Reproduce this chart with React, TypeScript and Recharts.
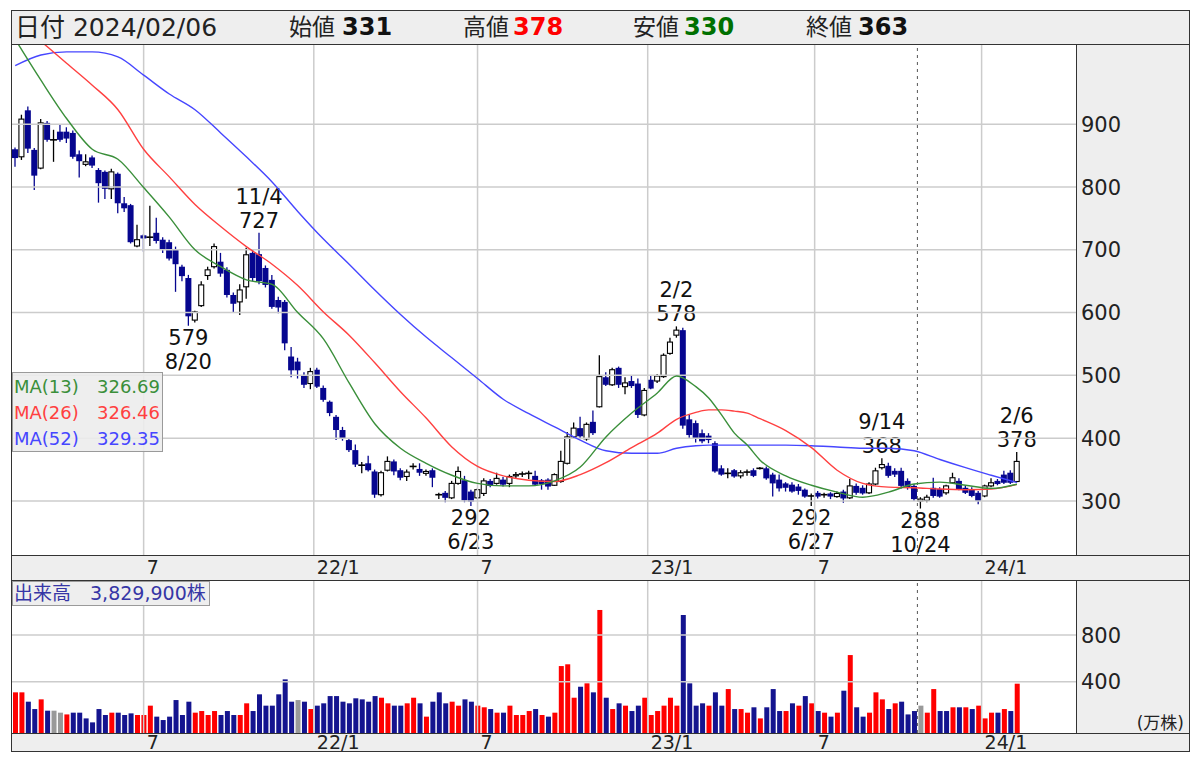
import { Bar, ComposedChart, Line, ReferenceLine, XAxis, YAxis } from "recharts"

const FONT = '"DejaVu Sans", "Noto Sans CJK JP", sans-serif'
const DATE = "2024/02/06"

// weekly candles, oldest first (week of 2021/2/8 through week of 2024/2/5)
const OPEN = [
  860, 848, 922, 859, 830, 902, 875, 888, 888, 886, 852, 836, 847, 827, 824, 797, 821, 774, 771, 706,
  723, 720, 727, 716, 712, 700, 673, 655, 588, 611, 659, 673, 681, 668, 628, 617, 641, 695, 693, 671,
  652, 620, 617, 530, 522, 500, 487, 509, 480, 458, 434, 413, 397, 381, 357, 360, 347, 310, 349, 363,
  349, 339, 355, 351, 344, 349, 310, 313, 305, 328, 333, 315, 305, 312, 332, 328, 334, 328, 340, 343,
  344, 340, 333, 334, 325, 331, 360, 402, 416, 399, 426, 450, 497, 485, 512, 482, 491, 487, 437, 493,
  491, 498, 535, 564, 572, 430, 424, 408, 404, 392, 352, 344, 349, 340, 346, 349, 352, 352, 342, 334,
  328, 326, 323, 318, 308, 313, 310, 312, 307, 315, 305, 324, 321, 313, 327, 353, 356, 348, 348, 332,
  324, 300, 301, 321, 319, 313, 329, 332, 321, 319, 313, 308, 324, 332, 342, 345, 331,
]
const HIGH = [
  863, 915, 928, 862, 908, 905, 891, 900, 895, 890, 858, 852, 850, 830, 826, 829, 823, 784, 773, 740,
  725, 770, 751, 720, 716, 705, 676, 660, 603, 650, 673, 710, 695, 672, 632, 645, 703, 700, 727, 675,
  660, 625, 620, 545, 528, 505, 512, 512, 484, 460, 437, 418, 400, 390, 362, 372, 350, 348, 371, 366,
  352, 350, 360, 360, 350, 352, 313, 316, 332, 355, 340, 318, 320, 336, 335, 345, 338, 342, 346, 347,
  348, 348, 335, 336, 344, 380, 410, 425, 434, 425, 444, 532, 505, 512, 514, 497, 499, 495, 480, 500,
  502, 535, 560, 578, 576, 438, 428, 414, 408, 395, 357, 352, 351, 349, 350, 352, 354, 355, 345, 342,
  330, 330, 327, 320, 312, 316, 313, 314, 315, 318, 335, 328, 325, 330, 353, 368, 361, 352, 353, 336,
  327, 306, 310, 337, 322, 326, 345, 336, 324, 322, 316, 326, 336, 335, 348, 349, 378,
]
const LOW = [
  832, 843, 854, 795, 828, 872, 840, 872, 870, 845, 815, 833, 830, 775, 781, 781, 758, 760, 710, 704,
  697, 706, 710, 695, 683, 633, 650, 579, 584, 609, 652, 670, 657, 624, 600, 596, 622, 650, 645, 640,
  606, 599, 540, 497, 495, 480, 478, 480, 458, 435, 397, 396, 378, 354, 344, 347, 305, 307, 347, 341,
  333, 332, 350, 340, 340, 322, 303, 298, 303, 326, 298, 292, 303, 308, 322, 326, 323, 322, 336, 338,
  335, 325, 318, 318, 324, 329, 358, 400, 400, 396, 405, 449, 483, 483, 480, 470, 480, 432, 435, 478,
  488, 496, 533, 560, 415, 400, 393, 392, 392, 345, 340, 336, 337, 336, 340, 338, 350, 334, 307, 315,
  315, 313, 310, 305, 292, 304, 305, 303, 305, 297, 303, 310, 310, 311, 325, 350, 337, 338, 320, 318,
  300, 288, 298, 305, 305, 310, 327, 317, 311, 306, 295, 306, 322, 325, 327, 327, 330,
]
const CLOSE = [
  846, 908, 861, 818, 902, 875, 875, 875, 877, 848, 841, 840, 834, 806, 797, 824, 774, 766, 712, 716,
  718, 720, 714, 700, 686, 677, 658, 594, 601, 644, 668, 705, 662, 628, 614, 636, 692, 655, 650, 644,
  609, 608, 551, 508, 508, 485, 506, 482, 461, 440, 413, 400, 381, 358, 357, 349, 310, 345, 363, 347,
  337, 346, 355, 345, 347, 337, 310, 305, 328, 347, 301, 299, 318, 332, 324, 336, 326, 339, 342, 343,
  344, 326, 327, 323, 342, 363, 402, 416, 403, 422, 408, 498, 485, 509, 485, 488, 483, 437, 476, 479,
  499, 532, 553, 572, 420, 405, 400, 395, 397, 347, 342, 344, 339, 345, 346, 340, 352, 336, 328, 320,
  321, 315, 316, 307, 308, 307, 310, 307, 312, 304, 324, 313, 312, 327, 348, 358, 340, 342, 324, 321,
  303, 303, 306, 308, 307, 324, 337, 319, 313, 308, 300, 324, 329, 327, 329, 329, 363,
]

// weekly volume (万株); r = up week, b = down week, g = unchanged
const VOLUME = [
  309, 309, 229, 166, 249, 152, 152, 135, 120, 135, 135, 86, 52, 166, 115, 135, 135, 115, 129, 115,
  115, 195, 101, 72, 101, 243, 115, 229, 135, 149, 115, 149, 115, 149, 115, 115, 215, 149, 292, 195,
  195, 292, 420, 229, 243, 229, 166, 195, 215, 277, 277, 229, 215, 258, 249, 229, 277, 263, 215, 195,
  195, 215, 263, 215, 101, 229, 309, 215, 229, 195, 249, 229, 195, 181, 166, 135, 135, 195, 115, 115,
  149, 166, 115, 101, 135, 534, 549, 263, 357, 386, 309, 1014, 263, 166, 215, 195, 149, 195, 263, 115,
  149, 195, 263, 195, 971, 386, 195, 215, 195, 309, 195, 337, 166, 166, 135, 181, 86, 181, 337, 149,
  149, 215, 195, 277, 215, 149, 135, 101, 135, 323, 628, 181, 101, 135, 309, 249, 166, 215, 229, 120,
  149, 195, 135, 337, 149, 149, 181, 181, 181, 166, 195, 86, 135, 135, 166, 149, 382.99,
]
const VOLUME_DIR = (
  "rrbbrbggrb" + "bbbbbrbbbr" + "rrbbbbbbrr" + "rrbbbrrbbb" + "bbbbgbrbbb" +
  "bbbbbbbrrb" + "brrbrbbbrr" + "bbrrbrbrrr" + "rbrbrrrrbr" + "brbrbrbbrr" +
  "rrrrbbbbrb" + "brbrrbrbbb" + "rbrbrbrbrb" + "rbbrrrbrbb" + "bgrrbbrbrb" + "rrrbrbr"
).split("")

// moving averages, sampled at these weeks
const MA_WEEKS = [
  0, 4, 8, 12, 16, 20, 24, 28, 32, 36, 40, 44, 48, 52, 56, 60, 64, 68, 72, 76, 80, 84, 88, 92, 96,
  100, 103, 106, 108, 110, 112, 114, 116, 120, 124, 128, 132, 136, 140, 144, 148, 152, 156,
]
const MA13 = [
  1035, 970, 909, 860, 844, 799, 752, 700, 673, 652, 645, 600, 558, 488, 423, 384, 360, 341, 328, 324,
  324, 332, 354, 402, 440, 472, 499, 482, 464, 437, 408, 389, 365, 340, 325, 314, 306, 314, 327, 330,
  325, 320, 326.69,
]
const MA26 = [
  1067, 1032, 997, 962, 923, 860, 816, 772, 737, 705, 677, 643, 601, 564, 520, 474, 432, 386, 355, 340,
  333, 331, 342, 361, 385, 408, 430, 441, 445, 445, 443, 440, 431, 412, 385, 349, 328, 322, 321, 319,
  318, 319, 326.46,
]
const MA52 = [
  993, 1010, 1015, 1015, 1007, 978, 948, 923, 886, 848, 808, 761, 717, 677, 636, 597, 561, 528, 495, 462,
  439, 418, 397, 380, 376, 376, 384, 388, 389, 389, 389, 389, 389, 389, 388, 386, 384, 384, 380, 366,
  353, 341, 329.35,
]

const PRICE_TICKS = [300, 400, 500, 600, 700, 800, 900]
const VOLUME_TICKS = [400, 800]
const MONTH_WEEKS = [20, 46.5, 72, 98.5, 124.5, 150.5]
const MONTH_LABELS = ["7", "22/1", "7", "23/1", "7", "24/1"]
const MARKER_WEEK = 140.5

const HIGH_MARK_WEEKS = [38, 103, 135, 156]
const HIGH_MARK_DATES = ["11/4", "2/2", "9/14", "2/6"]
const LOW_MARK_WEEKS = [27, 71, 124, 141]
const LOW_MARK_DATES = ["8/20", "6/23", "6/27", "10/24"]

const PRICE_DOMAIN = [214, 1026]
const VOLUME_DOMAIN = [-39, 1262]
const WEEK_DOMAIN = [-0.5, 165.2]

const DOWN = "#06068f"
const GRID = "#cccccc"
const MA_COLORS = ["#3a8f3a", "#ff4040", "#4646ff"]
const VOL_COLORS: Record<string, string> = { r: "#ff0000", b: "#14148f", g: "#999999" }

const rows = OPEN.map((o, i) => ({
  i,
  o,
  h: HIGH[i],
  l: LOW[i],
  c: CLOSE[i],
  vol: VOLUME[i],
  dir: VOLUME_DIR[i],
  m13: null as number | null,
  m26: null as number | null,
  m52: null as number | null,
}))
MA_WEEKS.forEach((w, k) => {
  rows[w].m13 = MA13[k]
  rows[w].m26 = MA26[k]
  rows[w].m52 = MA52[k]
})

const last = rows[rows.length - 1]

function Candle(props: any) {
  const { x, y, width, height, payload } = props
  if (!payload) return null
  const { o, h, l, c, i } = payload
  const top = Math.min(y, y + height)
  const k = h > l ? Math.abs(height) / (h - l) : 0
  const py = (v: number) => top + (h - v) * k
  const cx = x + width / 2
  const flat = o === c
  const up = c > o
  const ink = up || flat ? "#000" : DOWN
  const bTop = py(Math.max(o, c))
  const bBot = py(Math.min(o, c))
  const hi = HIGH_MARK_WEEKS.indexOf(i)
  const lo = LOW_MARK_WEEKS.indexOf(i)
  return (
    <g>
      <line x1={cx} x2={cx} y1={py(h)} y2={py(l)} stroke={ink} strokeWidth={1.3} />
      {flat ? (
        <line x1={x - 0.5} x2={x + width + 0.5} y1={bTop} y2={bTop} stroke="#000" strokeWidth={1.6} />
      ) : up ? (
        <rect x={x + 0.5} y={bTop} width={width - 1} height={Math.max(bBot - bTop, 1)} fill="#fff" stroke="#000" strokeWidth={1.1} />
      ) : (
        <rect x={x} y={bTop} width={width} height={Math.max(bBot - bTop, 1.5)} fill={DOWN} />
      )}
      {hi >= 0 && (
        <text x={cx} y={py(h) - 5} textAnchor="middle" fontSize={21} fontFamily={FONT} fill="#111">
          <tspan x={cx} dy={-24}>{HIGH_MARK_DATES[hi]}</tspan>
          <tspan x={cx} dy={24}>{h}</tspan>
        </text>
      )}
      {lo >= 0 && (
        <text x={cx} y={py(l) + 19} textAnchor="middle" fontSize={21} fontFamily={FONT} fill="#111">
          <tspan x={cx}>{l}</tspan>
          <tspan x={cx} dy={24}>{LOW_MARK_DATES[lo]}</tspan>
        </text>
      )}
    </g>
  )
}

function VolumeBar(props: any) {
  const { x, y, width, height, payload } = props
  if (!payload) return null
  return <rect x={x} y={Math.min(y, y + height)} width={width} height={Math.abs(height)} fill={VOL_COLORS[payload.dir]} />
}

function MonthTick(props: any) {
  const { x, y, payload, base } = props
  const k = MONTH_WEEKS.indexOf(payload.value)
  return (
    <text x={x + 3} y={y + base} textAnchor="start" fontSize={19} fontFamily={FONT} fill="#222">
      {MONTH_LABELS[k]}
    </text>
  )
}

function ValueTick(props: any) {
  const { x, y, payload } = props
  return (
    <text x={x + 5} y={y} dy="0.36em" textAnchor="start" fontSize={21} fontFamily={FONT} fill="#222">
      {payload.value}
    </text>
  )
}

const hLine = (top: number, left: number, width: number) => (
  <div style={{ position: "absolute", left, top, width, height: 1, background: "#333" }} />
)
const vLine = (left: number, top: number, height: number) => (
  <div style={{ position: "absolute", left, top, width: 1, height, background: "#333" }} />
)

export default function App() {
  const maLegend = [
    ["MA(13)", MA13[MA13.length - 1].toFixed(2)],
    ["MA(26)", MA26[MA26.length - 1].toFixed(2)],
    ["MA(52)", MA52[MA52.length - 1].toFixed(2)],
  ]
  const headerItems = [
    { name: "始値", value: last.o, color: "#111", left: 289, vleft: 342 },
    { name: "高値", value: last.h, color: "#ff0000", left: 463, vleft: 513 },
    { name: "安値", value: last.l, color: "#007000", left: 633, vleft: 684 },
    { name: "終値", value: last.c, color: "#111", left: 806, vleft: 858 },
  ]
  return (
    <div style={{ position: "relative", width: 1200, height: 759, background: "#fff", fontFamily: FONT }}>
      <style>{"body{margin:0}"}</style>
      <div
        style={{
          position: "absolute",
          left: 11,
          top: 10,
          width: 1179,
          height: 742,
          boxSizing: "border-box",
          border: "1px solid #333",
          background: "#eeeeee",
        }}
      />
      {/* header */}
      <div style={{ position: "absolute", left: 15, top: 10, height: 35, lineHeight: "35px", fontSize: 25, color: "#222" }}>
        日付 {DATE}
      </div>
      {headerItems.map((it) => (
        <div key={it.name}>
          <div style={{ position: "absolute", left: it.left, top: 10, height: 35, lineHeight: "35px", fontSize: 23, color: "#222" }}>
            {it.name}
          </div>
          <div
            style={{
              position: "absolute",
              left: it.vleft,
              top: 10,
              height: 35,
              lineHeight: "35px",
              fontSize: 24,
              fontWeight: "bold",
              color: it.color,
            }}
          >
            {it.value}
          </div>
        </div>
      ))}

      {/* plot backgrounds and frame lines */}
      <div style={{ position: "absolute", left: 12, top: 45, width: 1064, height: 511, background: "#fff" }} />
      <div style={{ position: "absolute", left: 12, top: 581, width: 1064, height: 152, background: "#fff" }} />
      {hLine(44, 11, 1179)}
      {hLine(555, 11, 1179)}
      {hLine(580, 11, 1179)}
      {hLine(733, 11, 1179)}
      {vLine(1076, 44, 512)}
      {vLine(1076, 580, 154)}

      <div style={{ position: "absolute", left: 12, top: 45 }}>
        <ComposedChart width={1177} height={535} data={rows} margin={{ top: 0, right: 0, bottom: 0, left: 0 }}>
          <XAxis
            dataKey="i"
            type="number"
            domain={WEEK_DOMAIN}
            allowDataOverflow
            ticks={MONTH_WEEKS}
            interval={0}
            height={25}
            tickLine={false}
            axisLine={false}
            tickSize={0}
            tickMargin={0}
            tick={(p: any) => <MonthTick {...p} base={19} />}
          />
          <YAxis
            orientation="right"
            type="number"
            domain={PRICE_DOMAIN}
            allowDataOverflow
            ticks={PRICE_TICKS}
            interval={0}
            width={113}
            tickLine={false}
            axisLine={false}
            tickSize={0}
            tickMargin={0}
            tick={(p: any) => <ValueTick {...p} />}
          />
          {PRICE_TICKS.map((p) => (
            <ReferenceLine key={"p" + p} y={p} stroke={GRID} strokeWidth={1.5} />
          ))}
          {MONTH_WEEKS.map((w) => (
            <ReferenceLine key={"w" + w} x={w} stroke={GRID} strokeWidth={1.5} />
          ))}
          <ReferenceLine x={MARKER_WEEK} stroke="#555" strokeDasharray="3 4" strokeWidth={1} />
          <Bar dataKey={(d: any) => [d.l, d.h]} barSize={6} shape={(p: any) => <Candle {...p} />} isAnimationActive={false} />
          <Line dataKey="m52" type="monotone" stroke={MA_COLORS[2]} strokeWidth={1.4} dot={false} connectNulls isAnimationActive={false} />
          <Line dataKey="m26" type="monotone" stroke={MA_COLORS[1]} strokeWidth={1.4} dot={false} connectNulls isAnimationActive={false} />
          <Line dataKey="m13" type="monotone" stroke={MA_COLORS[0]} strokeWidth={1.4} dot={false} connectNulls isAnimationActive={false} />
        </ComposedChart>
      </div>

      {/* moving average legend */}
      <div
        style={{
          position: "absolute",
          left: 12,
          top: 372,
          width: 151,
          height: 80,
          boxSizing: "border-box",
          border: "1.5px solid #9a9a9a",
          background: "rgba(236,236,236,0.9)",
        }}
      >
        {maLegend.map(([name, value], k) => (
          <div
            key={name}
            style={{
              position: "absolute",
              left: 1,
              right: 2,
              top: 1 + k * 26,
              height: 26,
              lineHeight: "26px",
              fontSize: 18,
              color: MA_COLORS[k],
              display: "flex",
              justifyContent: "space-between",
            }}
          >
            <span>{name}</span>
            <span>{value}</span>
          </div>
        ))}
      </div>

      <div style={{ position: "absolute", left: 12, top: 581 }}>
        <ComposedChart width={1177} height={176} data={rows} margin={{ top: 0, right: 0, bottom: 0, left: 0 }}>
          <XAxis
            dataKey="i"
            type="number"
            domain={WEEK_DOMAIN}
            allowDataOverflow
            ticks={MONTH_WEEKS}
            interval={0}
            height={24}
            tickLine={false}
            axisLine={false}
            tickSize={0}
            tickMargin={0}
            tick={(p: any) => <MonthTick {...p} base={16} />}
          />
          <YAxis
            orientation="right"
            type="number"
            domain={VOLUME_DOMAIN}
            allowDataOverflow
            ticks={VOLUME_TICKS}
            interval={0}
            width={113}
            tickLine={false}
            axisLine={false}
            tickSize={0}
            tickMargin={0}
            tick={(p: any) => <ValueTick {...p} />}
          />
          {VOLUME_TICKS.map((v) => (
            <ReferenceLine key={"v" + v} y={v} stroke={GRID} strokeWidth={1.5} />
          ))}
          {MONTH_WEEKS.map((w) => (
            <ReferenceLine key={"vw" + w} x={w} stroke={GRID} strokeWidth={1.5} />
          ))}
          <ReferenceLine x={MARKER_WEEK} stroke="#555" strokeDasharray="3 4" strokeWidth={1} />
          <Bar
            dataKey={(d: any) => [VOLUME_DOMAIN[0], d.vol]}
            barSize={5}
            shape={(p: any) => <VolumeBar {...p} />}
            isAnimationActive={false}
          />
        </ComposedChart>
      </div>

      {/* volume caption */}
      <div
        style={{
          position: "absolute",
          left: 12,
          top: 581,
          width: 198,
          height: 25,
          boxSizing: "border-box",
          border: "1.5px solid #9a9a9a",
          background: "#eeeeee",
          color: "#3636a6",
          fontSize: 19,
          lineHeight: "22px",
          paddingLeft: 1,
          whiteSpace: "nowrap",
          overflow: "hidden",
        }}
      >
        出来高　{Math.round(last.vol * 10000).toLocaleString("en-US")}株
      </div>
      <div style={{ position: "absolute", right: 16, top: 709, fontSize: 17, color: "#222" }}>(万株)</div>
    </div>
  )
}
